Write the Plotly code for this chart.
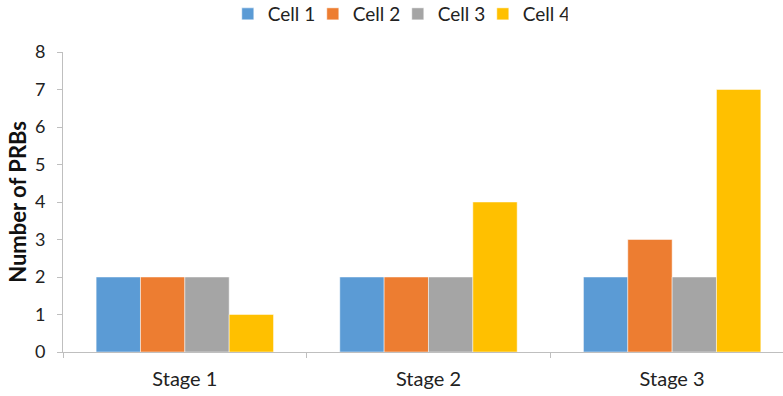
import plotly.graph_objects as go

stages = ["Stage 1", "Stage 2", "Stage 3"]
cell_names = ["Cell 1", "Cell 2", "Cell 3", "Cell 4"]
cell1 = [2, 2, 2]
cell2 = [2, 2, 3]
cell3 = [2, 2, 2]
cell4 = [1, 4, 7]
y_ticks = [0, 1, 2, 3, 4, 5, 6, 7, 8]

colors = ["#5B9BD5", "#ED7D31", "#A5A5A5", "#FFC000"]
series = [cell1, cell2, cell3, cell4]

FONT = "Lato, 'Open Sans', sans-serif"
AXIS_GRAY = "#BFBFBF"
TEXT = "#222222"

fig = go.Figure()
for name, vals, col in zip(cell_names, series, colors):
    fig.add_trace(go.Bar(
        x=stages, y=vals, name=name,
        marker=dict(color=col, line=dict(color="rgba(255,255,255,0.6)", width=0.8)),
    ))

fig.update_layout(
    width=783, height=396,
    margin=dict(l=63, r=0, t=52, b=44, autoexpand=False),
    plot_bgcolor="white", paper_bgcolor="white",
    barmode="group", bargap=0.272, bargroupgap=0,
    font=dict(family=FONT, size=16, color=TEXT),
    legend=dict(
        orientation="h", x=0.465, xanchor="center",
        y=1 - 14 / 396, yanchor="middle", yref="container",
        font=dict(size=19, color=TEXT),
        itemwidth=30, entrywidth=40, entrywidthmode="pixels",
        traceorder="normal",
    ),
    xaxis=dict(
        range=[-0.5, 2.455], showgrid=False,
        showline=True, linecolor=AXIS_GRAY, linewidth=1.3,
        ticks="outside", tickson="boundaries", ticklen=5, tickcolor=AXIS_GRAY,
        tickfont=dict(size=20, color=TEXT), ticklabelstandoff=9,
    ),
    yaxis=dict(
        range=[0, 8], tickvals=y_ticks, showgrid=False, zeroline=False,
        showline=True, linecolor=AXIS_GRAY, linewidth=1,
        ticks="outside", ticklen=5, tickcolor=AXIS_GRAY,
        tickfont=dict(size=18, color=TEXT), ticklabelstandoff=8,
        title=dict(text="<b>Number of PRBs</b>", font=dict(size=22, color="#111111"), standoff=2),
    ),
)

fig.write_html("out.html")
